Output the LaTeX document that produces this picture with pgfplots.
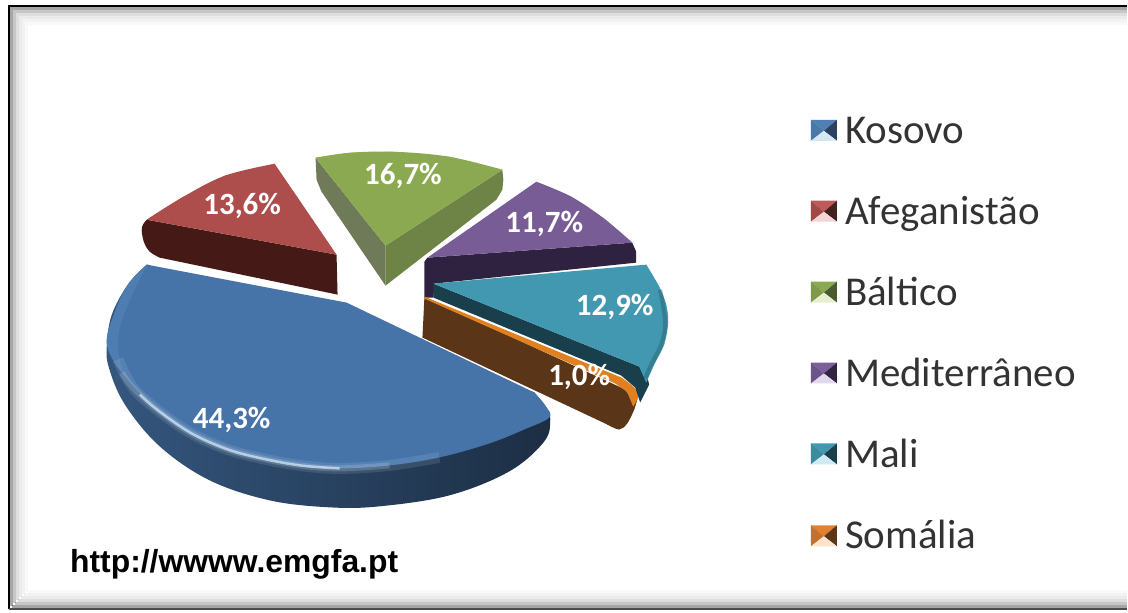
\documentclass[border=0pt]{standalone}
\usepackage{pgfplots}
\pgfplotsset{compat=1.18}
\usepackage{fontspec}
\setmainfont{Carlito}
\newfontfamily\urlfont{Liberation Sans}
\definecolor{bluetop}{HTML}{4673A8}
\definecolor{bluelight}{HTML}{5C8CC2}
\definecolor{bluehi}{HTML}{D8ECFC}
\definecolor{redtop}{HTML}{AD4E4C}
\definecolor{redside}{HTML}{451A16}
\definecolor{greentop}{HTML}{8BA950}
\definecolor{greenside}{HTML}{6E8446}
\definecolor{greenleft}{HTML}{6E7A58}
\definecolor{purpletop}{HTML}{775C96}
\definecolor{purpleside}{HTML}{2F2240}
\definecolor{tealtop}{HTML}{4298B0}
\definecolor{tealside}{HTML}{183F4B}
\definecolor{orangetop}{HTML}{E08020}
\definecolor{brownside}{HTML}{5A3518}
\definecolor{aT}{HTML}{4F7FB5}\definecolor{aL}{HTML}{4A78A8}\definecolor{aR}{HTML}{2C4060}\definecolor{aB}{HTML}{D5E6F5}
\definecolor{bT}{HTML}{C05A58}\definecolor{bL}{HTML}{A04A48}\definecolor{bR}{HTML}{452020}\definecolor{bB}{HTML}{F3D5D5}
\definecolor{cT}{HTML}{8BA950}\definecolor{cL}{HTML}{7E9A48}\definecolor{cR}{HTML}{4A5A30}\definecolor{cB}{HTML}{E6F0D0}
\definecolor{dT}{HTML}{7A5F9A}\definecolor{dL}{HTML}{6C5488}\definecolor{dR}{HTML}{302440}\definecolor{dB}{HTML}{E0D8EC}
\definecolor{eT}{HTML}{4298B0}\definecolor{eL}{HTML}{3A8AA0}\definecolor{eR}{HTML}{183F4B}\definecolor{eB}{HTML}{D0EAF2}
\definecolor{fT}{HTML}{E08030}\definecolor{fL}{HTML}{C87028}\definecolor{fR}{HTML}{5A3518}\definecolor{fB}{HTML}{FBE3CC}
\newcommand{\legendmark}[5]{%
 \addplot[fill=#2,draw=none] coordinates {(812,#1) (838,#1) (825,#1+11) (812,#1)};
 \addplot[fill=#3,draw=none] coordinates {(812,#1) (825,#1+11) (812,#1+21)};
 \addplot[fill=#4,draw=none] coordinates {(838,#1) (825,#1+11) (838,#1+21)};
 \addplot[fill=#5,draw=none] coordinates {(812,#1+21) (825,#1+11) (838,#1+21)};
}
\newcommand{\fade}[2]{% offset inside the frame, opacity
 \addplot[draw=black,opacity=#2,line width=3pt] coordinates {(9+#1,610-#1) (9+#1,6+#1) (1128,6+#1)};
 \addplot[draw=black,opacity=#2,line width=3pt] coordinates {(9+#1,610-#1) (1128,610-#1)};
}
\begin{document}
\begin{tikzpicture}
\begin{axis}[width=1128pt,height=613pt,scale only axis,hide axis,
 xmin=0,xmax=1128,ymin=0,ymax=613,y dir=reverse,clip=false,
 sm/.style={smooth,tension=0.6}]
\addplot[fill=white,draw=none] coordinates {(0,0) (1128,0) (1128,613) (0,613)};
% frame fade
\fade{3}{0.35}
\fade{6}{0.22}
\fade{9}{0.13}
\fade{12}{0.08}
\fade{15}{0.05}
\fade{18}{0.025}
\addplot[draw=black,line width=2.5pt] coordinates {(9,610) (9,6) (1128,6)};
\addplot[draw=black!70,line width=2.5pt] coordinates {(9,610) (1128,610)};
% Kosovo side / silhouette
\addplot[sm,left color=black!25!bluetop,middle color=black!45!bluetop,right color=black!60!bluetop,draw=none] coordinates {(147,265) (128,285) (112,315) (107,345) (109,368) (125,405) (160,447) (210,481) (270,501) (330,508) (380,507) (450,496) (510,472) (545,442) (551,420) (547,408) (535,393)};
% Kosovo top
\addplot[sm,fill=bluetop,draw=none] coordinates {(147,265) (128,285) (114,315) (107,345) (122,373) (157,410) (190,433) (225,449) (257,458) (300,466) (340,469) (390,466) (440,458) (490,444) (525,430) (550,418) (546,406) (535,393)};
\addplot[fill=bluetop,draw=none] coordinates {(147,265) (347,303) (535,393) (450,440) (300,450) (170,390)};
\addplot[sm,fill=bluelight,opacity=0.4,draw=none] coordinates {(147,265) (128,285) (114,315) (107,345) (122,373) (118,345) (124,315) (147,265)};
\addplot[sm,draw=bluehi,opacity=0.12,line width=11pt] coordinates {(118,360) (133,388) (157,410) (190,433) (225,449) (257,458) (300,466) (340,469) (390,466) (440,458)};
\addplot[sm,draw=bluehi,opacity=0.2,line width=6pt] coordinates {(122,373) (133,388) (157,410) (190,433) (225,449) (257,458) (300,466) (340,469) (390,466)};
\addplot[sm,draw=bluehi,opacity=0.7,line width=2.5pt] coordinates {(140,395) (157,410) (190,433) (225,449) (257,458) (300,466) (340,469)};
% Afeganistao
\addplot[sm,fill=redside,draw=none] coordinates {(147,220) (142,228) (144,242) (150,252) (160,258)};
\addplot[fill=redside,draw=none] coordinates {(147,220) (144,242) (160,258) (338,295) (337,255)};
\addplot[sm,fill=redtop,draw=none] coordinates {(275,164) (225,176) (182,198) (147,220)};
\addplot[fill=redtop,draw=none] coordinates {(275,164) (225,176) (182,198) (147,220) (337,255)};
% Baltico
\addplot[fill=greenleft,draw=none] coordinates {(316,158) (317,180) (322,192) (386,286) (386,246)};
\addplot[fill=greenside,draw=none] coordinates {(386,246) (386,286) (497,200) (503,190) (504,180) (503,170)};
\addplot[sm,fill=greentop,draw=none] coordinates {(316,158) (350,153) (395,152) (450,157) (503,170)};
\addplot[fill=greentop,draw=none] coordinates {(316,158) (350,153) (395,152) (450,157) (503,170) (386,246)};
% Mediterraneo
\addplot[fill=purpleside,draw=none] coordinates {(428,258) (633,243) (637,252) (637,263) (435,284) (434,298) (425,298) (425,262)};
\addplot[sm,fill=purpletop,draw=none] coordinates {(537,182) (572,197) (605,219) (633,243)};
\addplot[fill=purpletop,draw=none] coordinates {(428,258) (537,182) (572,197) (605,219) (633,243)};
% Somalia
\addplot[fill=brownside,draw=none] coordinates {(425,297) (423,338) (608,425) (620,430) (628,424) (635,410) (639,396)};
\addplot[sm,fill=brownside,draw=none] coordinates {(608,425) (620,430) (628,424) (635,410) (639,396)};
\addplot[fill=orangetop,draw=none] coordinates {(425,297) (622,378) (635,388) (639,397) (634,407) (632,398) (626,391) (616,384) (425,299)};
\addplot[sm,fill=orangetop,draw=none] coordinates {(622,378) (635,388) (639,397) (634,407)};
% Mali
\addplot[fill=tealside,draw=none] coordinates {(434,284) (434,298) (622,376) (636,388) (641,403) (650,385) (647,372) (640,367)};
\addplot[sm,fill=tealtop,draw=none] coordinates {(647,265) (660,287) (667,305) (669,323) (665,345) (655,365) (647,383)};
\addplot[fill=tealtop,draw=none] coordinates {(434,284) (647,265) (660,287) (667,305) (669,323) (665,345) (655,365) (647,383) (640,367)};
\addplot[sm,draw=tealside,opacity=0.3,line width=4pt] coordinates {(661,290) (666,323) (662,345) (652,365) (646,379)};
% legend markers
\legendmark{120}{aT}{aL}{aR}{aB}
\legendmark{201}{bT}{bL}{bR}{bB}
\legendmark{282}{cT}{cL}{cR}{cB}
\legendmark{363}{dT}{dL}{dR}{dB}
\legendmark{444}{eT}{eL}{eR}{eB}
\legendmark{526}{fT}{fL}{fR}{fB}
\tikzset{lg/.style={anchor=base west,inner sep=0pt,font=\fontsize{41}{41}\selectfont,text=black!80}}
\node[lg] at (axis cs:846,144) {Kosovo};
\node[lg] at (axis cs:846,225) {Afeganistão};
\node[lg] at (axis cs:846,306) {Báltico};
\node[lg] at (axis cs:846,387) {Mediterrâneo};
\node[lg] at (axis cs:846,468) {Mali};
\node[lg] at (axis cs:846,549) {Somália};
% data labels
\tikzset{dl/.style={anchor=base,text=white,font=\bfseries\fontsize{31}{31}\selectfont,inner sep=0pt}}
\node[dl] at (axis cs:232,429) {44,3\%};
\node[dl] at (axis cs:242.5,215) {13,6\%};
\node[dl] at (axis cs:403.5,185) {16,7\%};
\node[dl] at (axis cs:545,233) {11,7\%};
\node[dl] at (axis cs:615.5,316) {12,9\%};
\node[dl] at (axis cs:580,386) {1,0\%};
\node[anchor=base west,inner sep=0pt,font=\urlfont\bfseries\fontsize{31.9}{31.9}\selectfont] at (axis cs:70,573) {http://wwww.emgfa.pt};
\end{axis}
\end{tikzpicture}
\end{document}
